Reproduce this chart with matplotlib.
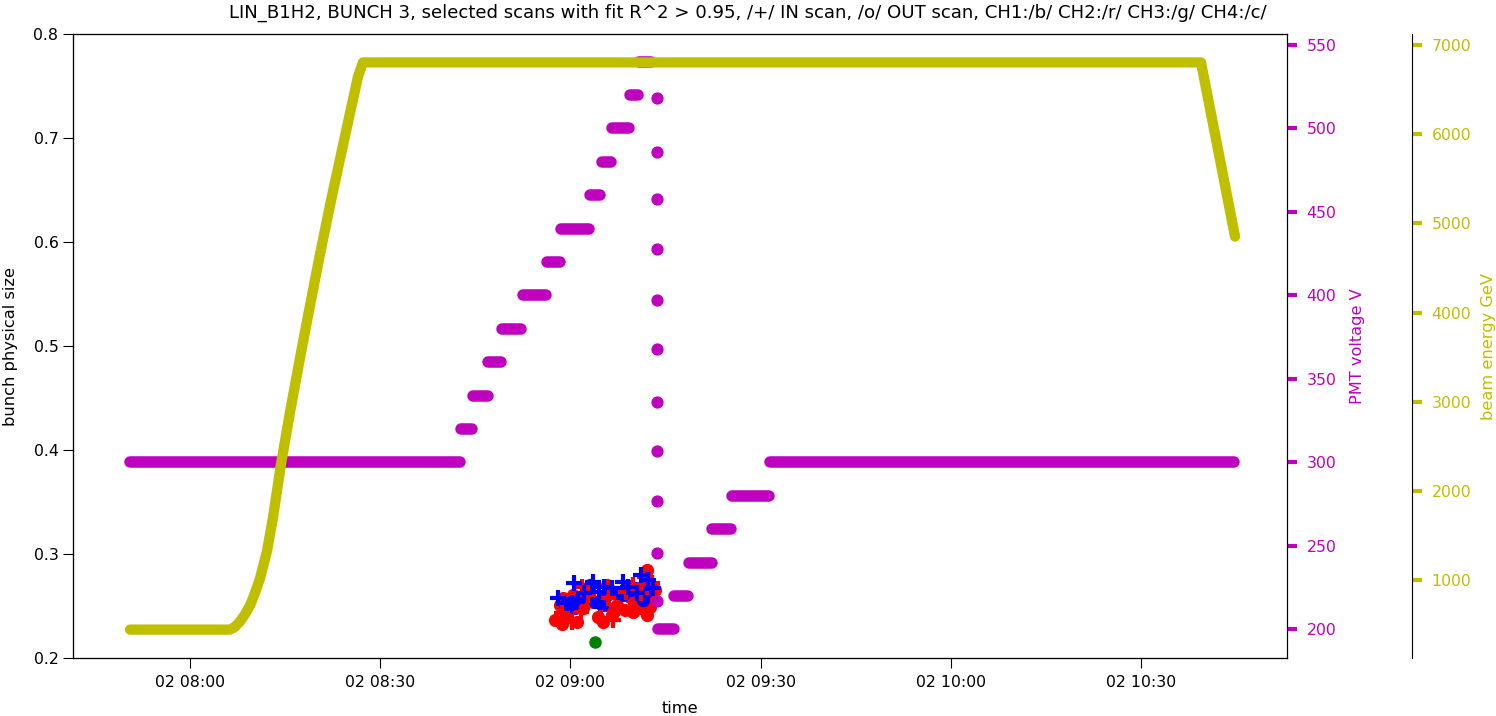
import matplotlib
matplotlib.use('Agg')
import matplotlib.pyplot as plt
import matplotlib.dates as mdates
import pandas as pd

day = '2018-05-02 '

# PMT voltage plateaus: start, end, voltage
pmt_start = ['07:50:32', '08:42:44', '08:44:34', '08:47:05', '08:49:13', '08:52:27', '08:56:19',
             '08:58:31', '09:03:05', '09:04:55', '09:06:34', '09:09:24', '09:10:49',
             '09:13:49', '09:16:25', '09:18:47', '09:22:25', '09:25:25', '09:31:25']
pmt_end = ['08:42:35', '08:44:29', '08:47:00', '08:49:08', '08:52:17', '08:56:09', '08:58:26',
           '09:02:56', '09:04:40', '09:06:24', '09:09:19', '09:10:44', '09:12:47',
           '09:16:20', '09:18:33', '09:22:20', '09:25:20', '09:31:15', '10:44:40']
pmt_volt = [300, 320, 340, 360, 380, 400, 420, 440, 460, 480, 500, 520, 540,
            200, 220, 240, 260, 280, 300]

# fast ramp-down samples of the PMT voltage
pmt_drop_time = ['09:13:37'] * 11
pmt_drop_volt = [518, 486, 457.5, 428, 397, 368, 336, 307, 277, 246, 217]

# beam energy
energy_time = ['07:50:32', '08:06:19', '08:07:05', '08:07:53', '08:08:40', '08:09:28', '08:10:15',
               '08:11:02', '08:12:09', '08:13:05', '08:14:21', '08:15:46', '08:17:21', '08:18:56',
               '08:20:30', '08:22:05', '08:23:40', '08:25:14', '08:26:30', '08:27:17',
               '10:39:28', '10:44:50']
energy_gev = [450, 450, 480, 540, 620, 720, 860, 1020, 1330, 1700, 2300, 2880, 3490, 4080,
              4650, 5200, 5720, 6230, 6640, 6800, 6800, 4850]

# CH1 (blue) and CH2 (red), IN scans (+) and OUT scans (o)
ch1_out_time = ['08:59:09', '08:59:56', '09:00:44', '09:03:05', '09:03:53', '09:04:56', '09:07:25',
                '09:08:21', '09:09:30', '09:10:11', '09:11:30', '09:11:56', '09:01:31', '09:05:50']
ch1_out_size = [0.2510, 0.2542, 0.2478, 0.2702, 0.2542, 0.2510, 0.2622,
                0.2606, 0.2654, 0.2670, 0.2558, 0.2638, 0.2574, 0.2606]
ch1_in_time = ['08:58:06', '09:00:35', '09:02:10', '09:03:30', '09:04:30', '09:06:31', '09:08:15',
               '09:09:08', '09:11:05', '09:12:10', '09:13:05', '09:00:12', '09:05:20', '09:10:27']
ch1_in_size = [0.2574, 0.2718, 0.2622, 0.2734, 0.2638, 0.2670, 0.2734,
               0.2686, 0.2798, 0.2750, 0.2670, 0.2526, 0.2686, 0.2622]
ch2_out_time = ['08:57:34', '08:58:37', '08:59:25', '08:58:53', '09:00:28', '09:02:02', '09:03:37',
                '09:04:25', '09:05:43', '09:05:28', '09:07:18', '09:08:37', '09:09:56', '09:10:02',
                '09:10:59', '09:12:02', '09:12:17', '09:12:08', '09:13:20', '09:07:49', '09:09:24',
                '08:58:22', '09:00:59', '09:05:11', '09:06:31', '09:10:52', '09:12:33']
ch2_out_size = [0.2365, 0.2324, 0.2397, 0.2574, 0.2606, 0.2478, 0.2542,
                0.2397, 0.2702, 0.2510, 0.2510, 0.2462, 0.2446, 0.2542,
                0.2670, 0.2414, 0.2574, 0.2846, 0.2654, 0.2638, 0.2590,
                0.2510, 0.2349, 0.2349, 0.2414, 0.2478, 0.2494]
ch2_in_time = ['08:58:45', '09:00:12', '09:01:40', '09:02:50', '09:04:50', '09:05:59', '09:07:34',
               '09:08:45', '09:09:50', '09:11:10', '09:11:46', '09:12:49', '09:06:40', '09:01:47']
ch2_in_size = [0.2430, 0.2349, 0.2446, 0.2606, 0.2381, 0.2574, 0.2478,
               0.2638, 0.2702, 0.2622, 0.2782, 0.2718, 0.2365, 0.2686]
ch3_out_time = ['09:03:53']
ch3_out_size = [0.2157]


def tt(lst):
    return pd.to_datetime([day + s for s in lst])


plt.rcParams['font.size'] = 11.4

fig = plt.figure(figsize=(14.96, 7.16), dpi=100)
ax = fig.add_axes([0.0488, 0.081, 0.8115, 0.8715])
ax2 = ax.twinx()
ax3 = ax.twinx()
ax3.spines['right'].set_position(('axes', 1.103))

# bunch sizes
ax.plot(tt(ch2_out_time), ch2_out_size, 'ro', ms=8.5)
ax.plot(tt(ch1_out_time), ch1_out_size, 'bo', ms=8.5)
ax.plot(tt(ch2_in_time), ch2_in_size, 'r+', ms=12, mew=3)
ax.plot(tt(ch1_in_time), ch1_in_size, 'b+', ms=12, mew=3)
ax.plot(tt(ch3_out_time), ch3_out_size, 'go', ms=8)

# PMT voltage
for s, e, v in zip(tt(pmt_start), tt(pmt_end), pmt_volt):
    ax2.plot([s, e], [v, v], color='m', lw=8.3, solid_capstyle='round')
ax2.plot(tt(pmt_drop_time), pmt_drop_volt, 'mo', ms=7.8)

# beam energy
ax3.plot(tt(energy_time), energy_gev, color='y', lw=7.4,
         solid_capstyle='round', solid_joinstyle='round')

ax.set_xlim(pd.Timestamp(day + '07:41:33'), pd.Timestamp(day + '10:53:02'))
ax.set_ylim(0.2, 0.8)
ax2.set_ylim(182.8, 556.6)
ax3.set_ylim(132, 7118)

ax.xaxis.set_major_locator(mdates.MinuteLocator(byminute=[0, 30]))
ax.xaxis.set_major_formatter(mdates.DateFormatter('%d %H:%M'))

fig.suptitle('LIN_B1H2, BUNCH 3, selected scans with fit R^2 > 0.95, /+/ IN scan, /o/ OUT scan, '
             'CH1:/b/ CH2:/r/ CH3:/g/ CH4:/c/', fontsize=13.1, y=0.982, va='center')
ax.set_xlabel('time', fontsize=11.7, labelpad=8)
ax.set_ylabel('bunch physical size', fontsize=11.7, labelpad=11)
ax2.set_ylabel('PMT voltage V', color='m', fontsize=11.7, labelpad=10)
ax3.set_ylabel('beam energy GeV', color='y', fontsize=11.7, labelpad=7)

ax.tick_params(axis='both', length=7, labelsize=11.3)
ax.tick_params(axis='x', pad=5)
ax2.set_yticks([200, 250, 300, 350, 400, 450, 500, 550])
ax3.set_yticks([1000, 2000, 3000, 4000, 5000, 6000, 7000])
ax2.tick_params(axis='y', colors='m', length=7, width=3, pad=7, labelsize=11.3)
ax3.tick_params(axis='y', colors='y', length=7, width=3, pad=7, labelsize=11.3)

fig.savefig('out.png', dpi=100)
